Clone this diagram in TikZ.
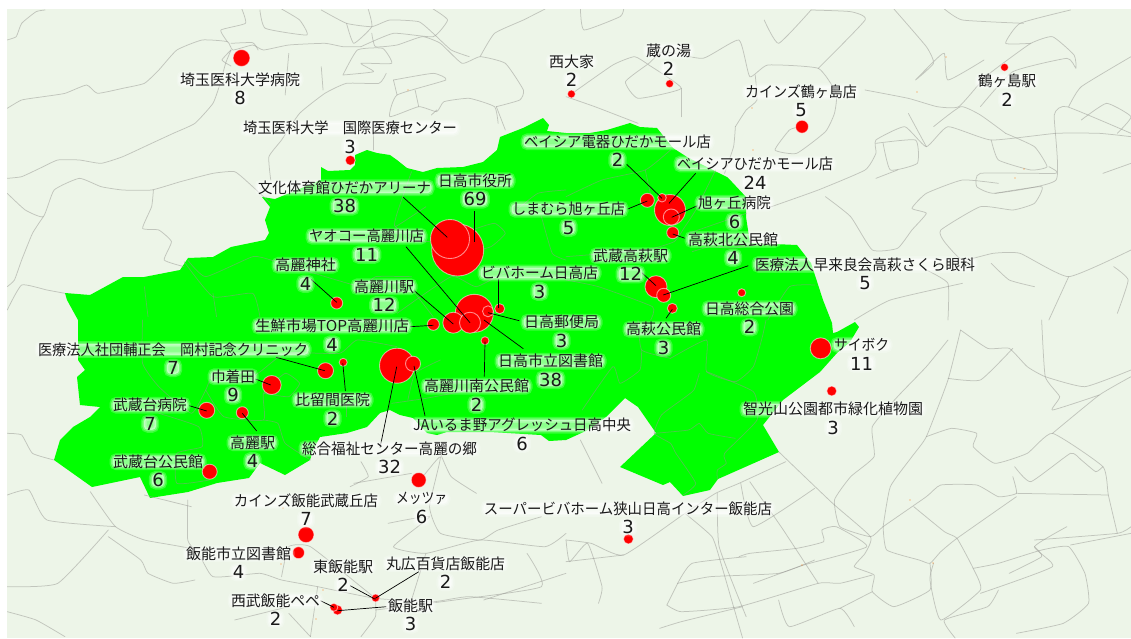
\documentclass[tikz,border=0pt]{standalone}
\usepackage{fontspec}
\usepackage{graphicx}
\setmainfont{Noto Sans CJK JP}
\newfontfamily\digfont{DejaVu Sans}
\definecolor{mapbg}{RGB}{237,245,232}
\definecolor{citygreen}{RGB}{0,255,0}
\definecolor{roadgrey}{RGB}{150,150,145}
\definecolor{labelink}{RGB}{25,25,25}
\definecolor{speck}{RGB}{255,130,30}
\newcommand{\rd}[1]{\draw[road] plot[smooth,tension=.28] coordinates {#1};}
\newcommand{\pnt}[4]{\node[spot,minimum size=#4*2pt] (#1) at (#2,#3) {};}
\newcommand{\ldr}[5]{\coordinate (#1a) at (#2,#3);\coordinate (#1b) at (#4,#5);\draw[leader] (#1a) -- (#1b);}
\newcommand{\lab}[6]{\node[maplabel] (#1) at (#2,#3-9.25) {\resizebox{#4pt}{\height}{#5}};\node[mapnum] (#1n) at (#2,#3+9.25) {#6};}
\tikzset{
  road/.style={draw=roadgrey,draw opacity=.5,line width=.75pt,line join=round,line cap=round},
  spot/.style={circle,fill=red,draw=white,draw opacity=.55,line width=.9pt,inner sep=0pt,outer sep=0pt},
  leader/.style={draw=black,line width=.7pt},
  glow/.style={rounded corners=4pt,fill=white,fill opacity=.55,text opacity=1,text=labelink,
    preaction={draw=white,draw opacity=.22,line width=6pt},
    preaction={draw=white,draw opacity=.3,line width=3pt}},
  maplabel/.style={glow,inner xsep=.5pt,inner ysep=-1.5pt,outer sep=0pt,font=\fontsize{15pt}{18pt}\selectfont},
  mapnum/.style={glow,inner xsep=.5pt,inner ysep=-.5pt,outer sep=0pt,font=\digfont\fontsize{18pt}{18pt}\selectfont},
  z1/.style={x=.36096pt,y=-.33333pt},
  z2/.style={x=.36033pt,y=-.33333pt,shift={(566pt,0pt)}},
  z3/.style={x=.36096pt,y=-.33333pt,shift={(0pt,-320pt)}},
  z4/.style={x=.36033pt,y=-.33333pt,shift={(566pt,-320pt)}},
}
\begin{document}
\begin{tikzpicture}[x=1pt,y=-1pt]
\useasboundingbox (0,0) rectangle (1131,638);
\fill[white] (0,0) rectangle (1131,638);
\fill[mapbg] (7,9) rectangle (1131,638);
% city area
\fill[citygreen] (65,293) -- (90,295) -- (123,277) -- (144,277) -- (180,270) -- (188,258) -- (213,257) -- (231,247) -- (265,240) -- (269,233) -- (265,220) -- (270,207) -- (262,197) -- (275,199) -- (321,180) -- (321,167) -- (328,171) -- (350,170) -- (355,165) -- (355,155) -- (367,150) -- (377,153) -- (390,155) -- (397,160) -- (407,168) -- (423,172) -- (437,168) -- (463,167) -- (483,162) -- (497,150) -- (500,137) -- (523,128) -- (543,118) -- (549,125) -- (547,131) -- (566,133) -- (590,133) -- (607,130) -- (630,123) -- (640,127) -- (657,128) -- (673,148) -- (687,157) -- (707,167) -- (727,177) -- (732,182) -- (746,197) -- (746,217) -- (748,230) -- (750,243) -- (797,245) -- (811,263) -- (823,300) -- (832,323) -- (833,333) -- (837,332) -- (855,322) -- (859,327) -- (850,342) -- (837,353) -- (820,372) -- (783,400) -- (763,425) -- (779,452) -- (718,479) -- (710,490) -- (683,496) -- (670,482) -- (663,485) -- (620,467) -- (656,433) -- (638,407) -- (625,398) -- (606,417) -- (588,430) -- (566,440) -- (549,441) -- (541,435) -- (490,432) -- (447,432) -- (437,435) -- (427,433) -- (413,418) -- (400,415) -- (390,410) -- (380,413) -- (367,427) -- (347,433) -- (320,437) -- (313,450) -- (310,460) -- (285,475) -- (260,463) -- (249,478) -- (217,483) -- (188,492) -- (150,498) -- (140,477) -- (92,487) -- (54,460) -- (60,440) -- (73,427) -- (90,417) -- (100,407) -- (80,405) -- (77,377) -- (85,370) -- (78,360) -- (78,320) -- (67,300) -- cycle;
\begin{scope}
\clip (7,9) rectangle (1131,638);
\begin{scope}[z1]
\rd{(19,120)(45,110)(60,70)(100,35)(125,30)}
\rd{(20,325)(60,300)(120,290)(180,280)(240,255)(270,280)(340,265)(400,250)(440,210)(490,150)(560,120)(630,125)(645,150)(700,135)(730,150)(800,135)(900,130)(950,140)(1000,140)}
\rd{(640,130)(700,128)(715,150)}
\rd{(640,150)(615,180)(640,198)}
\rd{(20,535)(60,530)(110,505)(160,480)(220,480)(280,490)(340,470)(420,430)(480,400)(540,370)(590,310)(610,250)(625,190)(640,150)}
\rd{(20,580)(70,630)(120,650)(150,570)(220,535)(280,560)(340,570)(420,570)(500,545)(590,520)(650,515)(690,550)(730,590)(750,610)}
\rd{(120,650)(90,700)(60,780)(40,840)(20,860)}
\rd{(20,930)(60,855)(130,870)(180,880)}
\rd{(425,570)(420,620)(395,685)(440,690)(475,725)(455,780)(510,800)}
\rd{(750,540)(745,470)(780,420)(830,340)(900,280)(960,250)(1050,250)(1070,220)}
\rd{(670,27)(680,70)(612,90)(630,125)}
\rd{(720,30)(735,85)(850,105)(830,60)(780,27)}
\rd{(890,30)(960,70)(1030,80)(1080,60)(1160,65)(1200,100)(1250,150)(1300,170)}
\rd{(960,70)(980,130)(1030,80)(1020,27)}
\rd{(800,160)(790,285)}
\rd{(890,200)(895,270)}
\rd{(950,225)(990,150)(1060,145)(1085,190)(1000,190)(1035,215)(950,225)}
\rd{(1030,100)(1040,140)(1100,135)(1170,110)(1220,130)(1280,190)(1330,170)(1400,190)(1450,270)(1440,300)(1375,320)}
\rd{(1090,240)(1200,220)(1235,240)(1100,285)(1080,350)(1160,320)(1210,335)(1230,305)(1300,295)(1370,320)(1380,370)}
\rd{(1090,240)(1100,285)}
\rd{(1160,320)(1150,270)}
\rd{(1210,330)(1195,345)}
\rd{(1035,400)(1035,450)}
\rd{(1140,515)(1100,640)(1095,680)(1180,620)}
\rd{(1095,680)(1150,720)(1280,730)(1310,690)(1370,670)(1400,700)(1360,740)(1290,760)}
\rd{(1420,640)(1490,580)(1568,570)}
\rd{(1500,650)(1530,760)(1568,780)}
\rd{(520,780)(570,830)(700,770)(750,780)(810,800)(1000,860)(1040,830)(1140,830)}
\rd{(590,880)(600,950)}
\rd{(400,860)(410,950)}
\rd{(510,785)(590,890)(700,880)(720,950)}
\rd{(1100,940)(1250,830)(1320,860)(1420,810)(1568,830)}
\rd{(1150,880)(1200,950)}
\rd{(1330,170)(1370,100)(1450,60)(1510,27)}
\rd{(1000,140)(1090,100)(1200,110)(1240,60)(1200,27)}
\rd{(1375,320)(1400,390)}
\end{scope}
\begin{scope}[z2]
\rd{(0,290)(80,320)(200,370)}
\rd{(15,282)(130,195)(190,170)(230,195)(320,265)(200,295)(165,245)(230,190)(270,155)(380,175)(480,120)(510,230)(560,195)(700,205)(750,280)(745,340)(720,395)(640,460)(580,450)(620,390)(650,380)}
\rd{(320,265)(320,350)}
\rd{(830,270)(950,295)(1030,320)(1090,320)(1160,235)(1200,200)(1290,130)(1350,110)(1410,165)(1415,205)(1390,175)(1240,215)(1150,320)}
\rd{(700,205)(830,60)(790,35)(680,30)}
\rd{(550,60)(590,130)(680,30)}
\rd{(40,27)(50,90)(150,50)(160,27)}
\rd{(910,27)(1000,140)(1020,190)(970,240)(1020,185)(1050,160)(1060,240)(1160,180)}
\rd{(1290,130)(1220,130)(1260,70)(1400,30)}
\rd{(1050,27)(1100,60)(1270,70)}
\rd{(470,380)(500,330)(530,300)(525,225)}
\rd{(470,380)(465,440)(440,520)}
\rd{(570,620)(700,570)(830,510)(860,460)(860,420)(940,380)(1000,440)(1060,380)(1180,420)(1360,400)(1480,400)(1568,410)}
\rd{(860,430)(970,420)(975,490)(900,510)(880,430)}
\rd{(860,535)(920,510)}
\rd{(950,340)(1000,440)}
\rd{(1020,380)(1095,320)(1150,345)(1220,400)}
\rd{(1180,420)(1200,480)(1290,510)(1335,500)(1300,440)(1220,400)}
\rd{(1340,500)(1360,520)(1150,520)(1140,560)(1190,580)(1360,540)(1355,345)(1390,320)(1568,400)}
\rd{(1190,580)(1320,560)(1300,610)(1240,630)(1150,620)(1040,690)(1050,725)(1100,780)(1185,760)(1260,760)(1395,830)(1568,750)}
\rd{(1395,320)(1430,260)(1568,170)}
\rd{(1430,360)(1500,310)(1568,350)(1530,400)}
\rd{(1490,520)(1568,490)}
\rd{(720,590)(790,650)(850,750)(920,745)(960,690)(1000,640)(960,625)(1000,580)(1100,540)(1200,550)}
\rd{(800,960)(900,900)(1100,850)}
\rd{(1180,790)(1230,840)(1300,860)}
\rd{(1395,830)(1340,960)}
\rd{(1520,800)(1560,840)(1530,940)}
\rd{(1000,810)(1060,850)(1060,960)}
\rd{(0,590)(100,540)(220,510)(290,450)}
\rd{(220,510)(235,585)}
\rd{(415,510)(360,630)(330,680)(300,725)(220,750)(0,770)}
\rd{(500,640)(340,700)}
\rd{(350,755)(400,740)(460,745)(560,730)}
\rd{(0,840)(90,860)(240,920)(235,960)}
\rd{(560,960)(620,860)(690,855)}
\end{scope}
\begin{scope}[z4]
\rd{(1095,30)(1170,85)(1230,85)(1280,140)(1330,170)(1440,200)(1568,150)}
\rd{(1060,60)(1000,140)(920,230)(850,320)(855,410)(790,470)(745,540)(760,620)(845,650)(880,620)(1000,530)(1040,495)(1140,495)(1200,530)(1250,520)(1240,470)}
\rd{(1095,30)(1060,180)(1000,350)(960,410)(900,500)(880,620)}
\rd{(1060,175)(1150,180)(1240,85)}
\rd{(1000,350)(1070,325)(1140,340)(1130,380)(1190,430)(1280,400)(1350,340)(1490,440)(1505,525)(1530,640)}
\rd{(1350,340)(1480,225)(1568,170)}
\rd{(1245,440)(1290,485)(1400,400)(1430,420)(1470,455)(1490,440)}
\rd{(1320,0)(1330,170)(1370,230)(1350,270)(1480,225)}
\rd{(1250,520)(1505,525)}
\rd{(590,395)(740,550)(845,650)(830,700)(800,740)(855,765)(850,815)(910,860)(1010,810)(1010,730)}
\rd{(610,425)(480,490)(415,520)(330,580)(160,705)(70,670)(0,660)}
\rd{(0,725)(160,705)}
\rd{(485,490)(520,620)(690,505)}
\rd{(510,485)(600,625)(700,790)}
\rd{(420,520)(425,680)(500,890)}
\rd{(330,580)(405,650)(430,730)(490,954)}
\rd{(480,710)(510,700)(640,685)(715,665)(710,630)(750,620)(835,680)(660,735)(520,790)}
\rd{(310,790)(400,770)(590,760)(690,720)}
\rd{(310,790)(350,730)(500,710)}
\rd{(280,855)(310,790)}
\rd{(280,855)(320,875)(480,860)(700,790)(760,790)(850,765)}
\rd{(590,840)(620,920)(760,865)(800,920)}
\rd{(260,925)(320,905)(490,860)}
\rd{(850,815)(760,865)}
\rd{(880,620)(890,690)(980,720)(1010,730)(1040,695)(1085,655)(1250,530)}
\rd{(965,560)(1050,635)(1085,655)(1130,745)(1150,810)(1040,900)(1010,780)(1020,730)}
\rd{(1130,745)(1200,730)(1320,690)(1395,680)(1440,760)(1450,850)(1380,910)(1250,940)}
\rd{(1300,680)(1320,710)(1230,760)}
\rd{(1150,820)(1350,740)(1300,680)(1390,620)}
\rd{(1200,810)(1170,860)(1050,900)(1080,954)}
\rd{(1300,660)(1530,640)(1568,620)}
\rd{(1400,675)(1568,640)}
\rd{(45,270)(130,140)(150,190)(205,150)(210,90)}
\rd{(290,115)(390,60)(390,155)(470,185)(520,140)(545,50)(555,0)}
\rd{(390,155)(520,215)(530,300)(440,400)(445,430)(420,450)(420,478)}
\rd{(370,160)(355,210)(320,240)(265,285)(245,340)(290,370)(305,400)(360,490)(325,525)}
\rd{(245,340)(340,330)(370,310)(395,340)(470,355)}
\rd{(0,660)(10,725)(60,670)(100,800)(90,850)}
\rd{(40,360)(100,490)}
\rd{(200,0)(210,90)(290,115)}
\end{scope}
\begin{scope}[z3]
\rd{(20,340)(60,345)(90,400)(150,420)}
\rd{(250,515)(320,620)(400,660)(540,690)(590,770)(720,760)(780,780)(880,800)(1040,835)(1200,845)(1300,830)(1500,850)}
\rd{(20,800)(160,790)(300,630)}
\rd{(20,875)(100,900)(180,950)}
\rd{(300,650)(390,720)(410,760)(480,790)(540,780)}
\rd{(320,620)(130,600)(80,510)(20,525)}
\rd{(520,540)(520,660)(540,690)}
\rd{(400,525)(530,560)}
\rd{(780,770)(800,680)(860,680)(1000,800)(1040,835)}
\rd{(880,800)(860,950)}
\rd{(1040,835)(1040,890)(1000,950)}
\rd{(1040,870)(1260,840)(1500,800)(1460,700)}
\rd{(1075,610)(1190,590)(1090,680)(1180,700)(1330,660)(1510,680)(1568,640)}
\rd{(1150,500)(1220,410)(1190,560)(1220,640)(1330,660)(1380,630)(1500,590)}
\rd{(980,490)(1140,460)}
\rd{(1220,400)(1250,470)(1320,520)}
\rd{(1000,425)(1020,470)(970,500)}
\rd{(1180,700)(1140,840)}
\rd{(1340,840)(1568,760)}
\rd{(800,880)(860,950)}
\rd{(650,900)(800,860)}
\rd{(395,0)(395,130)(440,200)(530,280)(570,210)(590,170)(700,170)(790,100)(940,100)(990,60)(1100,80)}
\rd{(570,210)(620,290)(730,300)(730,220)(790,160)(830,190)(800,230)(730,220)}
\rd{(730,300)(770,310)(790,370)(860,420)}
\rd{(440,280)(550,320)(560,380)(490,400)(490,490)(580,480)}
\rd{(1085,250)(1180,235)(1300,210)}
\rd{(1130,240)(1150,160)(1220,120)}
\rd{(960,220)(960,290)}
\end{scope}
\end{scope}
% small orange specks
\foreach \sx/\sy in {408/90,752/108,753/150,917/92,946/57,1024/169,1015/178,283/508,281/564,323/590,316/619,802/565,910/500,933/563}{\fill[speck] (\sx,\sy) circle (.7);}
% spots, then leaders, then labels
\pnt{p69}{457.7}{250}{26}
\pnt{p38a}{450}{239}{19.5}
\pnt{p38b}{474.3}{313.3}{19}
\pnt{p32}{397}{365.7}{17.5}
\pnt{p24}{670}{210}{15.5}
\pnt{p12a}{453.3}{322.7}{10.5}
\pnt{p11a}{470}{322.7}{10.5}
\pnt{p12b}{656}{286.7}{11}
\pnt{p11b}{820.7}{348.3}{10.5}
\pnt{p9}{271.7}{385}{9.5}
\pnt{p8}{241.5}{58}{8.5}
\pnt{p7a}{325.5}{370.7}{8}
\pnt{p7b}{206.7}{410.3}{8}
\pnt{p7c}{306}{534.7}{8}
\pnt{p6a}{671.3}{217}{8}
\pnt{p6b}{413}{363.7}{7.5}
\pnt{p6c}{209.7}{471.7}{7.5}
\pnt{p6d}{418.7}{480}{7.5}
\pnt{p5a}{647.3}{200.3}{7}
\pnt{p5b}{663.7}{295.3}{7}
\pnt{p5c}{802}{126.7}{6.5}
\pnt{p4a}{672.7}{232.7}{6}
\pnt{p4b}{433.3}{324.3}{6}
\pnt{p4c}{242.3}{412.7}{6}
\pnt{p4d}{336.7}{303}{6}
\pnt{p4e}{298.5}{552.7}{6}
\pnt{p3a}{350.3}{160.3}{5}
\pnt{p3b}{672.3}{308.3}{5}
\pnt{p3c}{831.7}{391}{5}
\pnt{p3d}{628.4}{539}{5}
\pnt{p3e}{488}{311.3}{5.5}
\pnt{p3f}{499.7}{308.7}{5}
\pnt{p3g}{337.5}{610}{5}
\pnt{p2a}{571.4}{94}{4}
\pnt{p2b}{669.6}{83.7}{4}
\pnt{p2c}{1004.5}{67.3}{4}
\pnt{p2d}{662}{197.7}{4.3}
\pnt{p2e}{741.7}{292.7}{4}
\pnt{p2f}{485}{340.7}{4}
\pnt{p2g}{343.2}{362.3}{4}
\pnt{p2h}{376}{598}{4}
\pnt{p2i}{375.5}{598}{4}
\pnt{p2j}{333.8}{607.3}{4}
\ldr{m1}{403.3}{197.3}{447.3}{237.3}
\ldr{m2}{474.7}{211}{474.7}{241.7}
\ldr{m3}{406}{246.7}{470}{322.7}
\ldr{m4}{414.3}{290.7}{453.3}{324}
\ldr{m5}{410}{326.7}{433.3}{325.3}
\ldr{m6}{498.3}{279}{498.3}{308.3}
\ldr{m7}{519.3}{320.7}{488}{312.7}
\ldr{m8}{523.3}{348.7}{484}{320}
\ldr{m9}{484.3}{376.7}{485}{341.7}
\ldr{m10}{311}{279.3}{336.7}{302.3}
\ldr{m11}{276}{357.3}{324.8}{370.7}
\ldr{m12}{345.4}{391}{342.8}{363.3}
\ldr{m13}{255.5}{379}{270.7}{385}
\ldr{m14}{189.3}{405.7}{206.7}{411}
\ldr{m15}{256.7}{431}{242.3}{413.3}
\ldr{m16}{380}{447.7}{396.7}{366.7}
\ldr{m17}{425}{415.7}{414}{366}
\ldr{m18}{626.7}{164.3}{662}{198.3}
\ldr{m19}{695.7}{173.3}{669}{203.3}
\ldr{m20}{627.7}{209}{647.3}{201}
\ldr{m21}{697.3}{205.7}{671.7}{217.3}
\ldr{m22}{685}{238.3}{672.7}{234}
\ldr{m23}{641.7}{272.7}{656}{285.7}
\ldr{m24}{748.3}{265.7}{663.3}{295}
\ldr{m25}{666}{318.3}{672.3}{309.3}
\ldr{m26}{418.8}{571.7}{375.4}{598.3}
\ldr{m27}{350.2}{585.7}{375.4}{599.3}
\ldr{m28}{320.6}{600.7}{333.9}{607.3}
\ldr{m29}{386.3}{606.7}{337.5}{610.7}
% labels
\lab{t01}{240}{88.7}{120}{埼玉医科大学病院}{8}
\lab{t02}{350}{137.3}{214}{埼玉医科大学　国際医療センター}{3}
\lab{t03}{571.5}{71}{45}{西大家}{2}
\lab{t04}{668.5}{60}{45}{蔵の湯}{2}
\lab{t05}{801}{101.2}{112}{カインズ鶴ヶ島店}{5}
\lab{t06}{1007}{90.2}{58}{鶴ヶ島駅}{2}
\lab{t07}{617.5}{151}{187}{ベイシア電器ひだかモール店}{2}
\lab{t08}{755}{173.2}{156}{ベイシアひだかモール店}{24}
\lab{t09}{344.5}{197}{173}{文化体育館ひだかアリーナ}{38}
\lab{t10}{475}{190}{74}{日高市役所}{69}
\lab{t11}{568.5}{218.5}{113}{しまむら旭ヶ丘店}{5}
\lab{t12}{734.5}{212.5}{73}{旭ヶ丘病院}{6}
\lab{t13}{733}{248.7}{90}{高萩北公民館}{4}
\lab{t14}{366.5}{245.5}{115}{ヤオコー高麗川店}{11}
\lab{t15}{539.5}{282.2}{117}{ビバホーム日高店}{3}
\lab{t16}{305.5}{274.5}{61}{高麗神社}{4}
\lab{t17}{384}{296}{60}{高麗川駅}{12}
\lab{t18}{630.5}{265}{75}{武蔵高萩駅}{12}
\lab{t19}{865}{273.7}{220}{医療法人早来良会高萩さくら眼科}{5}
\lab{t20}{749.5}{318}{89}{日高総合公園}{2}
\lab{t21}{332}{335.2}{154}{生鮮市場TOP高麗川店}{4}
\lab{t22}{561.5}{331.5}{75}{日高郵便局}{3}
\lab{t23}{663.5}{338.5}{75}{高萩公民館}{3}
\lab{t24}{550.5}{370.5}{105}{日高市立図書館}{38}
\lab{t25}{173}{358.7}{270}{医療法人社団輔正会　岡村記念クリニック}{7}
\lab{t26}{233}{386}{44}{巾着田}{9}
\lab{t27}{476.5}{395.5}{105}{高麗川南公民館}{2}
\lab{t28}{332.5}{409.2}{75}{比留間医院}{2}
\lab{t29}{150}{414.5}{74}{武蔵台病院}{7}
\lab{t30}{833}{418.5}{180}{智光山公園都市緑化植物園}{3}
\lab{t31}{522}{434.5}{218}{JAいるま野アグレッシュ日高中央}{6}
\lab{t32}{252.5}{452}{45}{高麗駅}{4}
\lab{t33}{389.5}{458}{175}{総合福祉センター高麗の郷}{32}
\lab{t34}{158}{471}{90}{武蔵台公民館}{6}
\lab{t35}{861.5}{354.2}{55}{サイボク}{11}
\lab{t36}{421.5}{508}{51}{メッツァ}{6}
\lab{t37}{306}{510}{144}{カインズ飯能武蔵丘店}{7}
\lab{t38}{628}{517.7}{288}{スーパービバホーム狭山日高インター飯能店}{3}
\lab{t39}{238.5}{563}{105}{飯能市立図書館}{4}
\lab{t40}{343}{576}{60}{東飯能駅}{2}
\lab{t41}{445.5}{573}{119}{丸広百貨店飯能店}{2}
\lab{t42}{275.5}{610}{89}{西武飯能ペペ}{2}
\lab{t43}{410.5}{615}{45}{飯能駅}{3}
\end{tikzpicture}
\end{document}
